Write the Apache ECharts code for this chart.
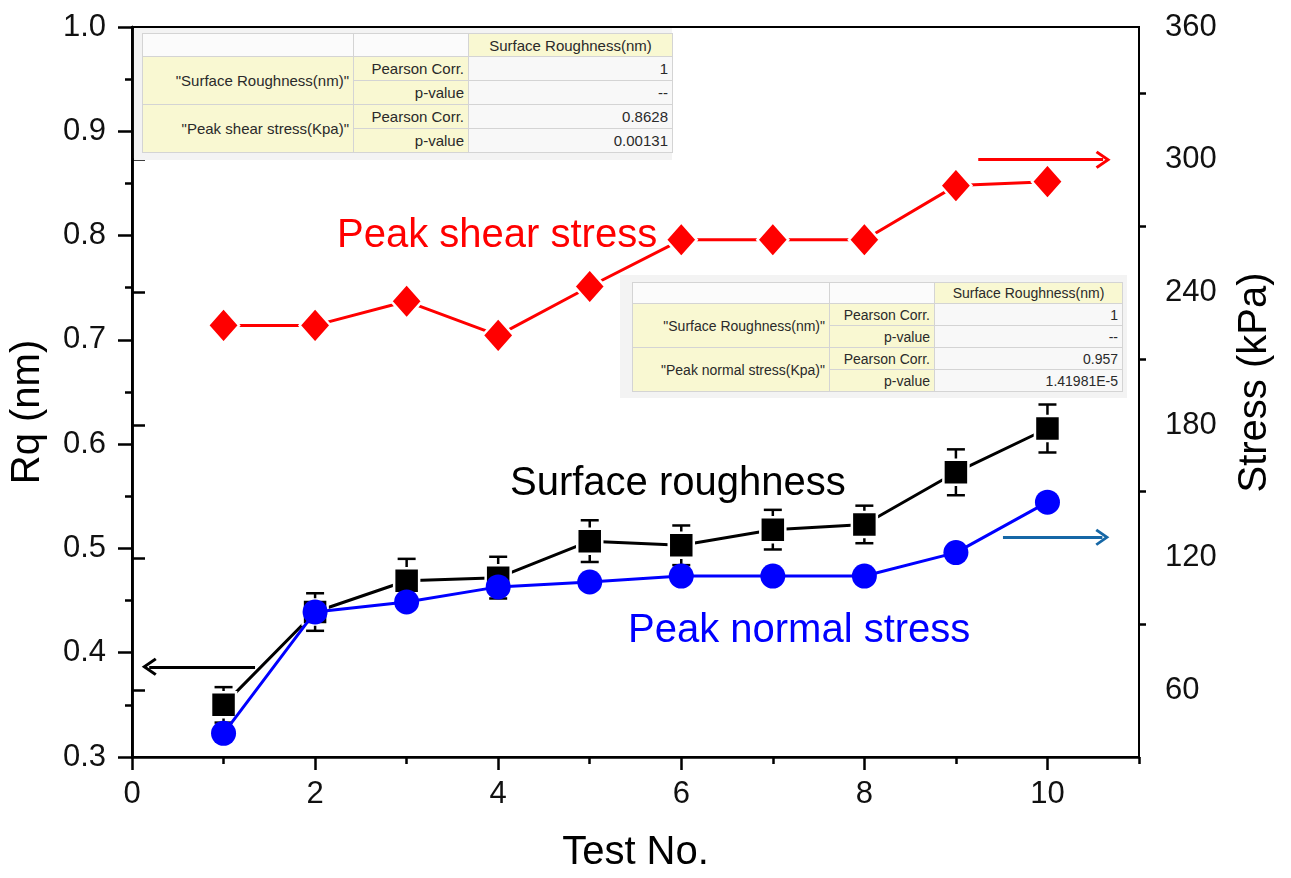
<!DOCTYPE html>
<html>
<head>
  <meta charset="utf-8">
  <script src="https://cdn.jsdelivr.net/npm/echarts@6.0.0/dist/echarts.min.js"></script>
  <style>
    html, body { margin: 0; padding: 0; background: #fff; }
    .page { position: relative; width: 1291px; height: 878px; }
    #main { width: 1291px; height: 878px; }
    .corr-box { position: absolute; background: #f3f3f3; }
    .corr { position: absolute; border-collapse: collapse; table-layout: fixed;
            font-family: "Liberation Sans", Arial, sans-serif; color: #2a2a2a; }
    .corr td { border: 1.5px solid #d4d4d4; padding: 0 4px; text-align: right;
               white-space: nowrap; overflow: hidden; line-height: 1; }
    .corr td.blank { background: #fbfbfb; }
    .corr td.yel { background: #f9f8d2; }
    .corr td.val { background: #f8f8f8; }
    .corr td.head { text-align: center; }
  </style>
</head>
<body>
  <div class="page">
    <div id="main"></div>
  </div>

  <script>
    // test number on x
    var testNo = [1, 2, 3, 4, 5, 6, 7, 8, 9, 10];
    // surface roughness Rq (nm), left axis
    var rq = [0.350, 0.439, 0.469, 0.472, 0.507, 0.503, 0.518, 0.523, 0.573, 0.615];
    var rqErr = [0.017, 0.018, 0.021, 0.020, 0.020, 0.019, 0.019, 0.018, 0.022, 0.023];
    // stresses (kPa), right axis
    var normalStress = [40.7, 95.6, 100.1, 106.9, 109.1, 111.8, 111.8, 111.8, 122.4, 145.2];
    var shearStress = [225.1, 225.1, 236.0, 220.6, 242.7, 263.8, 263.8, 263.8, 288.3, 290.1];

    // tick values
    var xTicks = [0, 2, 4, 6, 8, 10];
    var xMinorTicks = [1, 3, 5, 7, 9, 11];
    var stressTicks = [60, 120, 180, 240, 300, 360];
    var stressMinorTicks = [90, 150, 210, 270, 330];

    // correlation tables
    var corrHeader = 'Surface Roughness(nm)';
    var shearCorrRows = [
      ['"Surface Roughness(nm)"', 'Pearson Corr.', '1'],
      ['', 'p-value', '--'],
      ['"Peak shear stress(Kpa)"', 'Pearson Corr.', '0.8628'],
      ['', 'p-value', '0.00131']
    ];
    var normalCorrRows = [
      ['"Surface Roughness(nm)"', 'Pearson Corr.', '1'],
      ['', 'p-value', '--'],
      ['"Peak normal stress(Kpa)"', 'Pearson Corr.', '0.957'],
      ['', 'p-value', '1.41981E-5']
    ];

    function buildTable(rows, box, cell) {
      var page = document.querySelector('.page');
      var bg = document.createElement('div');
      bg.className = 'corr-box';
      bg.style.left = box[0] + 'px'; bg.style.top = box[1] + 'px';
      bg.style.width = box[2] + 'px'; bg.style.height = box[3] + 'px';
      page.appendChild(bg);

      var t = document.createElement('table');
      t.className = 'corr';
      t.style.left = cell.left + 'px'; t.style.top = cell.top + 'px';
      t.style.fontSize = cell.font + 'px';
      var cg = '<colgroup>' + cell.cols.map(function (w) { return '<col style="width:' + w + 'px">'; }).join('') + '</colgroup>';
      var html = cg + '<tr style="height:' + cell.head + 'px"><td class="blank"></td><td class="blank"></td><td class="yel head">' + corrHeader + '</td></tr>';
      rows.forEach(function (r) {
        html += '<tr style="height:' + cell.row + 'px">';
        if (r[0]) html += '<td class="yel" rowspan="2">' + r[0] + '</td>';
        html += '<td class="yel">' + r[1] + '</td><td class="val">' + r[2] + '</td></tr>';
      });
      t.innerHTML = html;
      page.appendChild(t);
    }

    buildTable(shearCorrRows, [134, 28, 538, 132], { left: 142, top: 33, cols: [211, 115, 204], head: 23, row: 24, font: 15 });
    buildTable(normalCorrRows, [620, 275, 507, 123], { left: 632, top: 282, cols: [197, 105, 188], head: 21, row: 22, font: 14 });

    var chart = echarts.init(document.getElementById('main'));

    var font = '"Liberation Sans", Arial, sans-serif';
    var chevron = 'path://M0,14 L10,0 L20,14 L17.5,16 L10,5.5 L2.5,16 Z';

    function pairs(ys) {
      return testNo.map(function (x, i) { return [x, ys[i]]; });
    }

    var option = {
      animation: false,
      grid: { left: 132, right: 152, top: 27, bottom: 120, show: true, borderColor: '#000', borderWidth: 2 },
      xAxis: [{
        type: 'value', min: 0, max: 11, interval: 1,
        name: 'Test No.', nameLocation: 'middle', nameGap: 76,
        nameTextStyle: { fontSize: 40, color: '#000', fontFamily: font },
        axisLine: { lineStyle: { color: '#000', width: 2.5 } },
        axisTick: { customValues: xTicks, length: 13, lineStyle: { color: '#000', width: 2.5 } },
        axisLabel: { customValues: xTicks, fontSize: 31, color: '#111', fontFamily: font, margin: 22 },
        splitLine: { show: false }
      }, {
        type: 'value', min: 0, max: 11, interval: 1, position: 'bottom',
        axisLine: { show: false },
        axisTick: { customValues: xMinorTicks, length: 7, lineStyle: { color: '#000', width: 2.5 } },
        axisLabel: { show: false },
        splitLine: { show: false }
      }],
      yAxis: [{
        type: 'value', min: 0.3, max: 1.0, interval: 0.1, position: 'left',
        name: 'Rq (nm)', nameLocation: 'middle', nameGap: 84, nameRotate: 90,
        nameTextStyle: { fontSize: 40, color: '#000', fontFamily: font, padding: [0, 40, 0, 0] },
        axisLine: { lineStyle: { color: '#000', width: 2.5 } },
        axisTick: { length: 14, lineStyle: { color: '#000', width: 2.5 } },
        minorTick: { show: true, splitNumber: 2, length: 7, lineStyle: { color: '#000', width: 2.5 } },
        axisLabel: { fontSize: 31, color: '#111', fontFamily: font, margin: 26,
          formatter: function (v) { return v.toFixed(1); } },
        splitLine: { show: false }
      }, {
        type: 'value', min: 30, max: 360, interval: 30, position: 'right',
        name: 'Stress (kPa)', nameLocation: 'middle', nameGap: 96, nameRotate: 90,
        nameTextStyle: { fontSize: 40, color: '#000', fontFamily: font, padding: [0, 0, 0, 19] },
        axisLine: { lineStyle: { color: '#000', width: 2.5 } },
        axisTick: { customValues: stressTicks, length: 13, lineStyle: { color: '#000', width: 2.5 } },
        axisLabel: { customValues: stressTicks, fontSize: 31, color: '#111', fontFamily: font, margin: 26 },
        splitLine: { show: false }
      }, {
        type: 'value', min: 30, max: 360, interval: 30, position: 'right',
        axisLine: { show: false },
        axisTick: { customValues: stressMinorTicks, length: 7, lineStyle: { color: '#000', width: 2.5 } },
        axisLabel: { show: false },
        splitLine: { show: false }
      }],
      graphic: [
        { type: 'text', x: 337, y: 236, z: 50,
          style: { text: 'Peak shear stress', fill: '#ff0000', font: '40px ' + font, align: 'left', verticalAlign: 'middle' } },
        { type: 'text', x: 510, y: 484, z: 50,
          style: { text: 'Surface roughness', fill: '#000', font: '40px ' + font, align: 'left', verticalAlign: 'middle' } },
        { type: 'text', x: 628, y: 631, z: 50,
          style: { text: 'Peak normal stress', fill: '#0000ff', font: '40px ' + font, align: 'left', verticalAlign: 'middle' } }
      ],
      series: [{
        name: 'Surface roughness', type: 'line', xAxisIndex: 0, yAxisIndex: 0, z: 4,
        symbol: 'rect', symbolSize: 25,
        itemStyle: { color: '#000', borderColor: '#fff', borderWidth: 2.5 },
        lineStyle: { color: '#000', width: 3 },
        data: pairs(rq),
        markLine: {
          silent: true, label: { show: false }, symbol: ['none', chevron], symbolSize: [18, 15],
          lineStyle: { color: '#000', width: 3, type: 'solid' },
          data: [[{ coord: [1.344, 0.3865] }, { coord: [0.188, 0.3865] }]]
        }
      }, {
        name: 'error', type: 'custom', xAxisIndex: 0, yAxisIndex: 0, z: 4,
        encode: { x: 0, y: [1, 2] },
        renderItem: function (params, api) {
          var x = api.value(0);
          var lo = api.coord([x, api.value(1)]);
          var hi = api.coord([x, api.value(2)]);
          var cap = 9;
          var st = { stroke: '#000', lineWidth: 2.5 };
          return { type: 'group', children: [
            { type: 'line', shape: { x1: lo[0], y1: lo[1], x2: hi[0], y2: hi[1] }, style: st },
            { type: 'line', shape: { x1: lo[0] - cap, y1: lo[1], x2: lo[0] + cap, y2: lo[1] }, style: st },
            { type: 'line', shape: { x1: hi[0] - cap, y1: hi[1], x2: hi[0] + cap, y2: hi[1] }, style: st }
          ] };
        },
        data: testNo.map(function (x, i) { return [x, rq[i] - rqErr[i], rq[i] + rqErr[i]]; })
      }, {
        name: 'Peak normal stress', type: 'line', xAxisIndex: 0, yAxisIndex: 1, z: 5,
        symbol: 'circle', symbolSize: 25,
        itemStyle: { color: '#0000ff' }, lineStyle: { color: '#0000ff', width: 3 },
        data: pairs(normalStress),
        markLine: {
          silent: true, label: { show: false }, symbol: ['none', chevron], symbolSize: [17, 14],
          lineStyle: { color: '#1667a6', width: 3, type: 'solid' },
          data: [[{ coord: [9.514, 129.3] }, { coord: [10.60, 129.3] }]]
        }
      }, {
        name: 'Peak shear stress', type: 'line', xAxisIndex: 0, yAxisIndex: 1, z: 5,
        symbol: 'diamond', symbolSize: [31, 35],
        itemStyle: { color: '#ff0000', borderColor: '#fff', borderWidth: 2.5 },
        lineStyle: { color: '#ff0000', width: 3 },
        data: pairs(shearStress),
        markLine: {
          silent: true, label: { show: false }, symbol: ['none', chevron], symbolSize: [18, 15],
          lineStyle: { color: '#ff0000', width: 3, type: 'solid' },
          data: [[{ coord: [9.244, 300] }, { coord: [10.608, 300] }]]
        }
      }]
    };

    chart.setOption(option);
  </script>
</body>
</html>
